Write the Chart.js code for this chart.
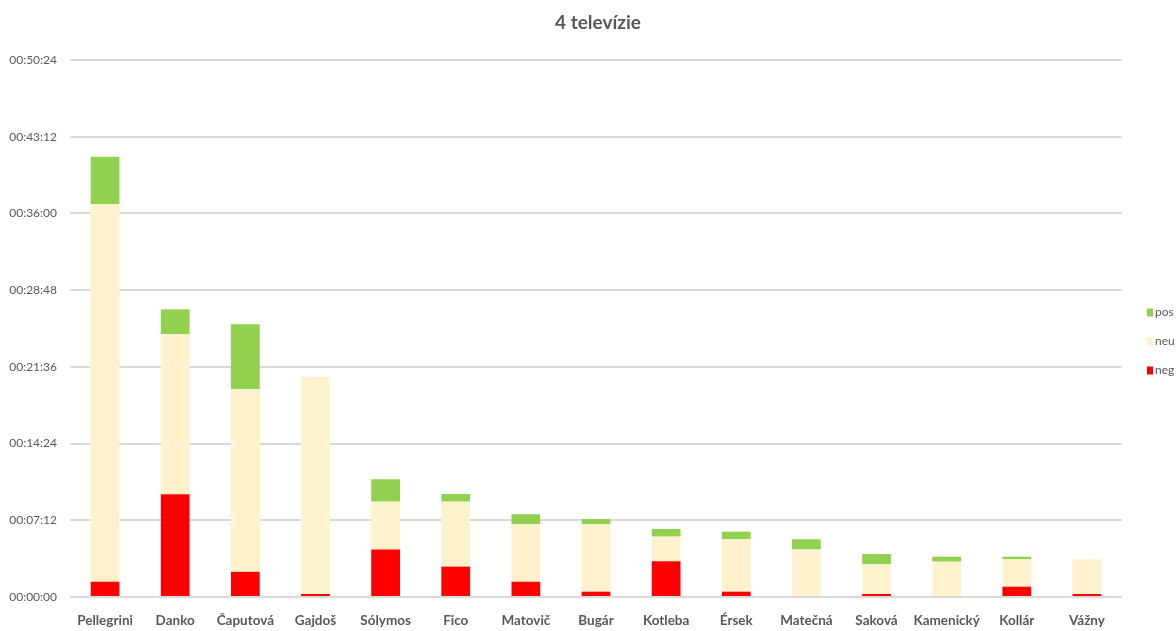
<!DOCTYPE html>
<html>
<head>
<meta charset="utf-8">
<title>4 televízie</title>
<script src="https://cdn.jsdelivr.net/npm/chart.js@4/dist/chart.umd.min.js"></script>
<style>
  html, body { margin: 0; padding: 0; background: #fff; }
  #wrap { width: 1176px; height: 631px; position: relative; }
</style>
</head>
<body>
<div id="wrap"><canvas id="tvChart"></canvas></div>
<script>
// airtime per candidate, in seconds
const candidates = ['Pellegrini', 'Danko', 'Čaputová', 'Gajdoš', 'Sólymos', 'Fico', 'Matovič',
  'Bugár', 'Kotleba', 'Érsek', 'Matečná', 'Saková', 'Kamenický', 'Kollár', 'Vážny'];
const negSeconds = [86, 578, 142, 17, 268, 171, 86, 30, 201, 30, 0, 17, 0, 58, 17];
const neuSeconds = [2125, 901, 1028, 1222, 269, 366, 323, 379, 139, 295, 268, 167, 199, 154, 195];
const posSeconds = [268, 141, 366, 0, 126, 43, 57, 30, 43, 43, 57, 58, 28, 15, 0];

const tickStep = 432;   // 00:07:12
const axisMax = 3024;   // 00:50:24
const chartTitle = '4 televízie';

const textGray = '#595959';
const fontFamily = 'Lato, "Open Sans", sans-serif';

function toClock(sec) {
  const h = Math.floor(sec / 3600);
  const m = Math.floor((sec % 3600) / 60);
  const s = Math.round(sec % 60);
  return [h, m, s].map(v => String(v).padStart(2, '0')).join(':');
}

// title centred over the plot, legend to the right of it (pos on top)
const titleAndLegend = {
  id: 'titleAndLegend',
  afterDraw(chart) {
    const { ctx, chartArea } = chart;
    ctx.save();
    ctx.fillStyle = textGray;
    ctx.textAlign = 'center';
    ctx.textBaseline = 'middle';
    ctx.font = `bold 19px ${fontFamily}`;
    ctx.fillText(chartTitle, (chartArea.left + chartArea.right) / 2 + 2, 23);

    const items = chart.data.datasets.slice().reverse();
    const mid = (chartArea.top + chartArea.bottom) / 2 + 13;
    ctx.font = `12px ${fontFamily}`;
    ctx.textAlign = 'left';
    items.forEach((ds, i) => {
      const y = mid + (i - 1) * 29;
      const x = chartArea.right + 25;
      ctx.fillStyle = ds.backgroundColor;
      ctx.fillRect(x, y - 4, 6, 8);
      ctx.fillStyle = textGray;
      ctx.fillText(ds.label, x + 8, y);
    });
    ctx.restore();
  }
};

const ctx = document.getElementById('tvChart').getContext('2d');
const tvChart = new Chart(ctx, {
  type: 'bar',
  data: {
    labels: candidates,
    datasets: [
      { label: 'neg', data: negSeconds, backgroundColor: '#ff0000' },
      { label: 'neu', data: neuSeconds, backgroundColor: '#fff2cc' },
      { label: 'pos', data: posSeconds, backgroundColor: '#92d050' }
    ]
  },
  plugins: [titleAndLegend],
  options: {
    responsive: true,
    maintainAspectRatio: false,
    animation: false,
    datasets: { bar: { barPercentage: 0.82, categoryPercentage: 0.5 } },
    layout: { padding: { left: 7, right: 54, top: 60, bottom: 0 } },
    scales: {
      x: {
        stacked: true,
        grid: { display: false },
        border: { display: false },
        afterFit: scale => { scale.height = 34; },
        ticks: {
          color: textGray,
          font: { family: fontFamily, size: 13.5, weight: 'bold' },
          padding: 8,
          maxRotation: 0,
          autoSkip: false
        }
      },
      y: {
        stacked: true,
        min: 0,
        max: axisMax,
        grid: { color: '#d9d9d9', lineWidth: 2, drawTicks: false },
        border: { display: false },
        afterFit: scale => { scale.width = 63; },
        ticks: {
          stepSize: tickStep,
          color: textGray,
          padding: 13,
          font: { family: fontFamily, size: 12 },
          callback: v => toClock(v)
        }
      }
    },
    plugins: {
      title: { display: false },
      legend: { display: false },
      tooltip: {
        callbacks: { label: item => `${item.dataset.label}: ${toClock(item.raw)}` }
      }
    }
  }
});
</script>
</body>
</html>
